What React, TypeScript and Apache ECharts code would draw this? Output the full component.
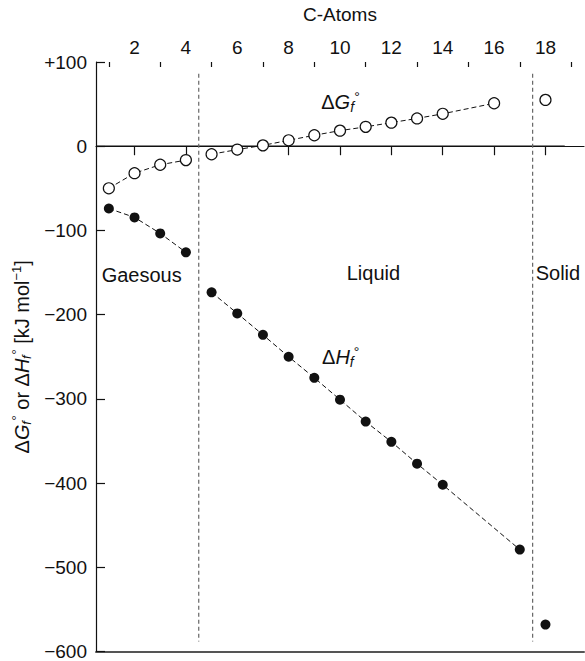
import React, { useEffect, useRef } from "react";
import * as echarts from "echarts";

// ---- data ----
const gasAtoms = [1, 2, 3, 4];
const gasDeltaG = [-50, -32, -22, -16.5];
const gasDeltaH = [-74, -84.5, -103.5, -126];

const liquidAtomsG = [5, 6, 7, 8, 9, 10, 11, 12, 13, 14, 16];
const liquidDeltaG = [-9.5, -4, 1, 7, 13, 18.5, 23, 28, 33, 38.5, 51];

const liquidAtomsH = [5, 6, 7, 8, 9, 10, 11, 12, 13, 14, 17];
const liquidDeltaH = [-173.5, -198.5, -224, -250, -275, -301, -327, -351, -377, -402, -479];

const solidAtoms = [18];
const solidDeltaG = [55];
const solidDeltaH = [-568];

const phaseBoundaries = [4.5, 17.5];
const majorTicks = [2, 4, 6, 8, 10, 12, 14, 16, 18];
const minorTicks = [1, 3, 5, 7, 9, 11, 13, 15, 17, 19];

const pairs = (xs: number[], ys: number[]) => xs.map((x, i) => [x, ys[i]]);

const FONT = "Liberation Sans, Arial, Helvetica, sans-serif";
const INK = "#111";

export default function App() {
  const ref = useRef<HTMLDivElement>(null);

  useEffect(() => {
    if (!ref.current) return;
    const chart = echarts.init(ref.current, null, { renderer: "svg" });

    const open = {
      symbol: "circle",
      symbolSize: 11,
      itemStyle: { color: "#fff", borderColor: INK, borderWidth: 1.2 },
    };
    const filled = {
      symbol: "circle",
      symbolSize: 10,
      itemStyle: { color: INK, borderColor: INK, borderWidth: 0 },
    };
    const dashLine = { color: INK, width: 1, type: [5, 3] as any };

    const lineSeries = (data: number[][], marker: any, z = 5) => ({
      type: "line",
      data,
      ...marker,
      showSymbol: true,
      lineStyle: dashLine,
      z,
      silent: true,
    });

    const option: any = {
      animation: false,
      textStyle: { fontFamily: FONT, color: INK },
      grid: { left: 96, right: 1, top: 60, bottom: 5, containLabel: false },
      xAxis: [
        {
          type: "value",
          position: "top",
          min: 0.5,
          max: 19.5,
          name: "C-Atoms",
          nameLocation: "middle",
          nameGap: 38,
          nameTextStyle: { fontSize: 19, color: INK, fontFamily: FONT },
          axisLine: { show: true, lineStyle: { color: INK, width: 1.2 } },
          axisTick: {
            show: true,
            inside: true,
            length: 9,
            customValues: majorTicks,
            lineStyle: { color: INK, width: 1.2 },
          },
          axisLabel: {
            show: true,
            customValues: majorTicks,
            fontSize: 19,
            color: INK,
            fontFamily: FONT,
            margin: 5,
          },
          splitLine: { show: false },
        },
        {
          type: "value",
          position: "top",
          offset: 0,
          min: 0.5,
          max: 19.5,
          axisLine: { show: false },
          axisTick: {
            show: true,
            inside: true,
            length: 5,
            customValues: minorTicks,
            lineStyle: { color: INK, width: 1.2 },
          },
          axisLabel: { show: false },
          splitLine: { show: false },
        },
        {
          type: "value",
          position: "bottom",
          min: 0.5,
          max: 19.5,
          axisLine: { show: true, lineStyle: { color: "#555", width: 2 } },
          axisTick: { show: false },
          axisLabel: { show: false },
          splitLine: { show: false },
        },
      ],
      yAxis: {
        type: "value",
        min: -600,
        max: 100,
        interval: 100,
        name: "{d|Δ}{i|G}{s|f}{o|°} or {d|Δ}{i|H}{s|f}{o|°} [kJ mol{e|−1}]",
        nameLocation: "middle",
        nameRotate: 90,
        nameGap: 60,
        nameTextStyle: {
          fontSize: 20,
          color: INK,
          fontFamily: FONT,
          rich: {
            d: { fontSize: 20, fontFamily: FONT, color: INK, lineHeight: 23 },
            i: { fontSize: 20, fontStyle: "italic", fontFamily: FONT, color: INK, lineHeight: 23 },
            s: { fontSize: 13, fontStyle: "italic", fontFamily: FONT, color: INK, verticalAlign: "bottom", lineHeight: 12, width: 3 },
            o: { fontSize: 13, fontFamily: FONT, color: INK, verticalAlign: "top", lineHeight: 12, padding: [0, 0, 0, 1] },
            e: { fontSize: 13, fontFamily: FONT, color: INK, verticalAlign: "top", lineHeight: 12 },
          },
        },
        axisLine: { show: true, lineStyle: { color: INK, width: 1.2 } },
        axisTick: { show: true, inside: true, length: 9, lineStyle: { color: INK, width: 1.2 } },
        axisLabel: {
          fontSize: 19,
          color: INK,
          fontFamily: FONT,
          margin: 9,
          formatter: (v: number) => (v > 0 ? "+" + v : v < 0 ? "−" + Math.abs(v) : "0"),
        },
        splitLine: { show: false },
      },
      series: [
        {
          type: "line",
          data: [
            [0.5, 0],
            [18.75, 0],
          ],
          symbol: "none",
          lineStyle: { color: INK, width: 1.2 },
          z: 2,
          silent: true,
        },
        ...phaseBoundaries.map((b) => ({
          type: "line",
          data: [
            [b, 86],
            [b, -588],
          ],
          symbol: "none",
          lineStyle: { color: "#666", width: 1.2, type: [4, 3] },
          z: 2,
          silent: true,
        })),
        lineSeries(pairs(gasAtoms, gasDeltaG), open),
        lineSeries(pairs(liquidAtomsG, liquidDeltaG), open),
        lineSeries(pairs(solidAtoms, solidDeltaG), open),
        lineSeries(pairs(gasAtoms, gasDeltaH), filled),
        lineSeries(pairs(liquidAtomsH, liquidDeltaH), filled),
        lineSeries(pairs(solidAtoms, solidDeltaH), filled),
      ],
    };

    chart.setOption(option);

    const px = (x: number, y: number) =>
      chart.convertToPixel({ xAxisIndex: 0, yAxisIndex: 0 }, [x, y]) as number[];

    const labelRich = {
      d: { fontSize: 20, fontFamily: FONT, fill: INK, lineHeight: 24 },
      i: { fontSize: 20, fontStyle: "italic", fontFamily: FONT, fill: INK, lineHeight: 24 },
      s: { fontSize: 14, fontStyle: "italic", fontFamily: FONT, fill: INK, verticalAlign: "bottom", lineHeight: 13, width: 3 },
      o: { fontSize: 14, fontFamily: FONT, fill: INK, verticalAlign: "top", lineHeight: 13, padding: [0, 0, 0, 1] },
    };

    const annotations = [
      { text: "Gaesous", at: [0.72, -153], align: "left" },
      { text: "Liquid", at: [11.3, -150], align: "center" },
      { text: "Solid", at: [17.62, -150], align: "left" },
    ];
    const formulaLabels = [
      { text: "{d|Δ}{i|G}{s|f}{o|°}", at: [9.27, 53] },
      { text: "{d|Δ}{i|H}{s|f}{o|°}", at: [9.3, -250] },
    ];

    const graphic: any[] = [
      ...annotations.map((a) => {
        const p = px(a.at[0], a.at[1]);
        return {
          type: "text",
          x: p[0],
          y: p[1],
          silent: true,
          style: {
            text: a.text,
            fontSize: 20,
            fontFamily: FONT,
            fill: INK,
            align: a.align,
            verticalAlign: "middle",
          },
        };
      }),
      ...formulaLabels.map((a) => {
        const p = px(a.at[0], a.at[1]);
        return {
          type: "text",
          x: p[0],
          y: p[1],
          silent: true,
          style: {
            text: a.text,
            rich: labelRich,
            fontSize: 20,
            fontFamily: FONT,
            fill: INK,
            align: "left",
            verticalAlign: "middle",
          },
        };
      }),
    ];
    chart.setOption({ graphic });

    return () => chart.dispose();
  }, []);

  return (
    <div
      ref={ref}
      style={{ position: "fixed", left: 0, top: 0, width: 585, height: 661, background: "#fff" }}
    />
  );
}
